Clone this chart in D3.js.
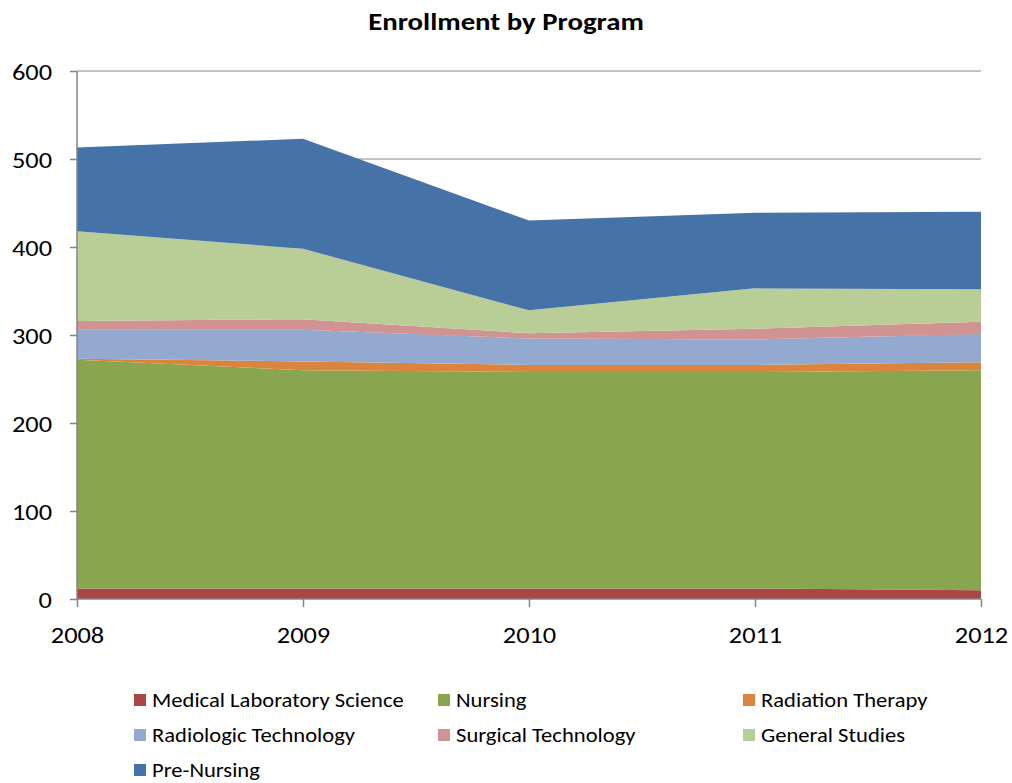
<!DOCTYPE html>
<html>
<head>
<meta charset="utf-8">
<script src="https://cdn.jsdelivr.net/npm/d3@7"></script>
<style>
  body { margin: 0; background: #fff; }
  svg { font-family: Carlito, Lato, "Open Sans", sans-serif; }
</style>
</head>
<body>
<svg id="chart" width="1012" height="783"></svg>
<script>
// years on the x axis
const years = [2008, 2009, 2010, 2011, 2012];

// enrollment per program
const medicalLab = [12, 12, 12, 12, 10];
const nursing = [260, 248, 246, 246, 250];
const radiationTherapy = [1, 10, 8, 8, 9];
const radiologicTech = [33, 36, 30, 29, 32];
const surgicalTech = [10, 12, 6, 12, 14];
const generalStudies = [102, 80, 26, 46, 37];
const preNursing = [95, 125, 102, 86, 88];

const programs = ['Medical Laboratory Science', 'Nursing', 'Radiation Therapy',
  'Radiologic Technology', 'Surgical Technology', 'General Studies', 'Pre-Nursing'];
const seriesValues = [medicalLab, nursing, radiationTherapy, radiologicTech,
  surgicalTech, generalStudies, preNursing];
const colors = ['#AA4643', '#89A54E', '#DB843D', '#93A9CF', '#D19392', '#B9CD96', '#4572A7'];

const yTicks = [0, 100, 200, 300, 400, 500, 600];

// the reference text is a bit wide, stretch it horizontally
const stretch = 1.2;

// build table for d3.stack
const table = years.map((yr, i) => {
  const row = { year: yr };
  programs.forEach((p, j) => { row[p] = seriesValues[j][i]; });
  return row;
});

const svg = d3.select('#chart');
const margin = { left: 77, right: 31, top: 71, bottom: 184 };
const width = 1012, height = 783;

const x = d3.scaleLinear()
  .domain([years[0], years[years.length - 1]])
  .range([margin.left, width - margin.right]);
const y = d3.scaleLinear()
  .domain([0, 600])
  .range([height - margin.bottom, margin.top]);

// title
svg.append('text')
  .attr('transform', `translate(506,30) scale(${stretch},1)`)
  .attr('text-anchor', 'middle')
  .attr('font-size', 24)
  .attr('font-weight', 'bold')
  .text('Enrollment by Program');

// gridlines
svg.append('g')
  .selectAll('line')
  .data(yTicks.slice(1))
  .join('line')
  .attr('x1', x.range()[0])
  .attr('x2', x.range()[1])
  .attr('y1', d => y(d))
  .attr('y2', d => y(d))
  .attr('stroke', '#868686')
  .attr('stroke-width', 1);

// stacked areas
const stack = d3.stack().keys(programs);
const layers = stack(table);
const area = d3.area()
  .x(d => x(d.data.year))
  .y0(d => y(d[0]))
  .y1(d => y(d[1]));

svg.append('g')
  .selectAll('path')
  .data(layers)
  .join('path')
  .attr('d', area)
  .attr('fill', (d, i) => colors[i]);

// axes
const yAxis = d3.axisLeft(y)
  .tickValues(yTicks)
  .tickSize(7);
const gy = svg.append('g')
  .attr('transform', `translate(${margin.left},0)`)
  .call(yAxis);

const xAxis = d3.axisBottom(x)
  .tickValues(years)
  .tickFormat(d3.format('d'))
  .tickSize(8);
const gx = svg.append('g')
  .attr('transform', `translate(0,${y(0)})`)
  .call(xAxis);

[gx, gy].forEach(g => {
  g.select('.domain').attr('stroke', '#868686').attr('stroke-width', 1.5);
  g.selectAll('.tick line').attr('stroke', '#868686').attr('stroke-width', 1.5);
  g.selectAll('.tick text')
    .attr('font-size', 22)
    .attr('fill', '#000')
    .attr('font-family', 'Carlito, Lato, "Open Sans", sans-serif');
});
gy.selectAll('.tick text')
  .attr('x', null).attr('dy', null)
  .attr('transform', `translate(-25,8) scale(${stretch},1)`);
gx.selectAll('.tick text')
  .attr('y', null).attr('dy', null)
  .attr('transform', `translate(0,44) scale(${stretch},1)`);
gy.select('.domain').attr('d', `M0,${y(600)}V${y(0)}`);
gx.select('.domain').attr('d', `M${x.range()[0]},0H${x.range()[1]}`);

// legend
const colX = [134, 438, 743];
const rowY = [700, 735, 770];
const legend = svg.append('g')
  .selectAll('g')
  .data(programs)
  .join('g')
  .attr('transform', (d, i) => `translate(${colX[i % 3]},${rowY[Math.floor(i / 3)]})`);

legend.append('rect')
  .attr('x', 0)
  .attr('y', -6)
  .attr('width', 12)
  .attr('height', 12)
  .attr('fill', (d, i) => colors[i]);

legend.append('text')
  .attr('transform', 'translate(18,7) scale(1.13,1)')
  .attr('font-size', 20)
  .text(d => d);
</script>
</body>
</html>
